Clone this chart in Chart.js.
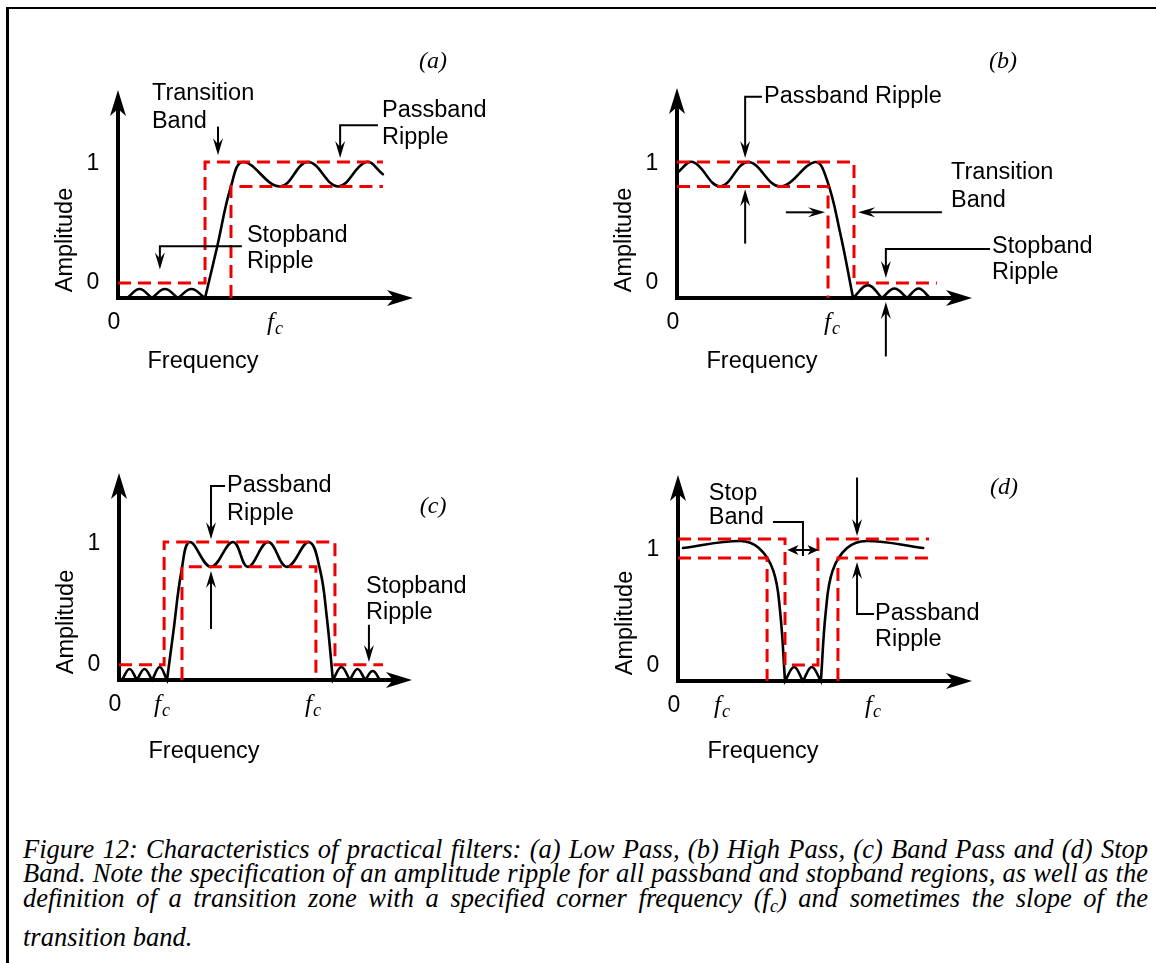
<!DOCTYPE html>
<html>
<head>
<meta charset="utf-8">
<title>Practical filter characteristics</title>
<script src="https://cdn.jsdelivr.net/npm/chart.js@4.4.1/dist/chart.umd.min.js"></script>
<style>
  body { margin: 0; background: #fff; }
  #page { position: relative; width: 1156px; height: 963px; overflow: hidden; background: #fff; }
  #frame { position: absolute; left: 6px; top: 7px; width: 1300px; height: 1100px;
           border-top: 2px solid #000; border-left: 3px solid #000; }
  #page canvas { position: absolute; left: 0; top: 0; }
  .cap { position: absolute; left: 23px; width: 1125px; line-height: 25px;
         font: italic 26.5px "Liberation Serif", "Times New Roman", serif; color: #000;
         text-align: justify; text-align-last: justify; }
  .cap.last { text-align-last: left; }
  .cap sub { font-size: 0.68em; vertical-align: -0.3em; line-height: 0; }
</style>
</head>
<body>
<div id="page">
  <div id="frame"></div>
  <div class="cap" style="top:834px">Figure 12: Characteristics of practical filters: (a) Low Pass, (b) High Pass, (c) Band Pass and (d) Stop</div>
  <div class="cap" style="top:858px">Band. Note the specification of an amplitude ripple for all passband and stopband regions, as well as the</div>
  <div class="cap" style="top:883px">definition of a transition zone with a specified corner frequency (f<sub>c</sub>) and sometimes the slope of the</div>
  <div class="cap last" style="top:922px">transition band.</div>
</div>

<script>
// ========== DATA ==========
// frequency runs 0..10 along each axis, amplitude 1 = top of the passband tolerance.
// a point listed twice marks a sharp junction between two ripple lobes.

// (a) low pass
const lowPassResponse = [
  [0.31, 0], [0.73, 0.066], [1.15, 0], [1.15, 0], [1.59, 0.066], [2.03, 0], [2.03, 0],
  [2.49, 0.066], [2.95, 0], [2.95, 0], [3.36, 0.375], [3.83, 0.82], [4.24, 1.0],
  [5.49, 0.82], [6.44, 1.0], [7.46, 0.82], [8.41, 1.0], [8.98, 0.91]
];
const lowPassUpper = [[0, 0.11], [2.95, 0.11], [2.95, 1.0], [8.98, 1.0]];
const lowPassLower = [[3.83, 0], [3.83, 0.82], [8.98, 0.82]];
const lowPassFc = [5.32];

// (b) high pass
const highPassResponse = [
  [0, 0.92], [0.54, 1.0], [1.46, 0.82], [2.41, 1.0], [3.49, 0.82], [4.68, 1.0],
  [5.08, 0.87], [5.53, 0.48], [5.97, 0], [5.97, 0], [6.47, 0.095], [6.95, 0], [6.95, 0],
  [7.37, 0.07], [7.80, 0], [7.80, 0], [8.19, 0.07], [8.58, 0]
];
const highPassUpper = [[0, 1.0], [6.0, 1.0], [6.0, 0.11], [8.81, 0.11]];
const highPassLower = [[0, 0.82], [5.12, 0.82], [5.12, 0]];
const highPassFc = [5.25];

// (c) band pass
const bandPassResponse = [
  [0.10, 0], [0.36, 0.08], [0.61, 0], [0.61, 0], [0.87, 0.08], [1.13, 0], [1.13, 0],
  [1.39, 0.094], [1.64, 0], [1.64, 0], [1.85, 0.34], [2.14, 0.80], [2.42, 1.0],
  [3.14, 0.82], [3.89, 1.0], [4.40, 0.82], [5.09, 1.0], [5.73, 0.82], [6.48, 1.0],
  [6.86, 0.80], [7.09, 0.46], [7.30, 0], [7.30, 0], [7.59, 0.094], [7.88, 0], [7.88, 0],
  [8.14, 0.08], [8.40, 0], [8.40, 0], [8.66, 0.065], [8.91, 0]
];
const bandPassUpper = [[0, 0.11], [1.54, 0.11], [1.54, 1.0], [7.37, 1.0], [7.37, 0.11], [9.01, 0.11]];
const bandPassLower = [[2.15, 0], [2.15, 0.82], [6.72, 0.82], [6.72, 0]];
const bandPassFc = [1.47, 6.62];

// (d) band stop
const bandStopResponse = [
  [0.17, 1.0], [2.11, 1.053], [2.75, 1.0], [3.24, 0.83], [3.47, 0.53], [3.64, 0], [3.64, 0],
  [3.95, 0.105], [4.25, 0], [4.25, 0], [4.55, 0.105], [4.86, 0], [4.86, 0],
  [5.03, 0.53], [5.26, 0.83], [5.75, 1.0], [6.42, 1.053], [8.34, 1.0]
];
const bandStopUpper = [[0, 1.068], [3.64, 1.068], [3.64, 0.12], [4.76, 0.12], [4.76, 1.068], [8.54, 1.068]];
const bandStopLowerLeft = [[0, 0.925], [3.03, 0.925], [3.03, 0]];
const bandStopLowerRight = [[5.44, 0], [5.44, 0.925], [8.54, 0.925]];
const bandStopFc = [1.50, 6.63];

// ========== STYLE ==========
const INK = '#000';
const RED = '#ee0000';
const SANS = '"Liberation Sans", Arial, sans-serif';
const SERIF = '"Liberation Serif", "Times New Roman", serif';
const LABEL_FONT = `23.5px ${SANS}`;
const TICK_FONT = `23px ${SANS}`;
const TAG_FONT = `italic 24px ${SERIF}`;

// ========== PANELS ==========
const panels = [
  {
    box: { left: 118, top: 90, right: 413, bottom: 298 }, yMax: 1.529, freqDy: 64,
    response: lowPassResponse, bounds: [lowPassUpper, lowPassLower], fc: lowPassFc,
    tag: ['(a)', 10.68, 1.735],
    labels: [
      { x: 1.15, rows: [['Transition', 1.50], ['Band', 1.30]] },
      { x: 8.95, rows: [['Passband', 1.375], ['Ripple', 1.18]] },
      { x: 4.37, rows: [['Stopband', 0.46], ['Ripple', 0.265]] }
    ],
    arrows: [
      { pts: [[3.39, 1.26], [3.39, 1.05]] },
      { pts: [[8.81, 1.27], [7.53, 1.27], [7.53, 1.03]] },
      { pts: [[4.2, 0.38], [1.42, 0.38], [1.42, 0.21]] }
    ]
  },
  {
    box: { left: 677, top: 88, right: 972, bottom: 298 }, yMax: 1.544, freqDy: 64,
    response: highPassResponse, bounds: [highPassUpper, highPassLower], fc: highPassFc,
    tag: ['(b)', 11.05, 1.735],
    labels: [
      { x: 2.95, rows: [['Passband Ripple', 1.48]] },
      { x: 9.29, rows: [['Transition', 0.92], ['Band', 0.72]] },
      { x: 10.68, rows: [['Stopband', 0.38], ['Ripple', 0.19]] }
    ],
    arrows: [
      { pts: [[2.88, 1.48], [2.31, 1.48], [2.31, 1.03]] },
      { pts: [[2.31, 0.40], [2.31, 0.80]] },
      { pts: [[8.98, 0.63], [6.14, 0.63]] },
      { pts: [[3.69, 0.63], [5.02, 0.63]] },
      { pts: [[10.61, 0.36], [7.08, 0.36], [7.08, 0.147]] },
      { pts: [[7.08, -0.43], [7.08, -0.03]] }
    ]
  },
  {
    box: { left: 119, top: 473, right: 412, bottom: 680 }, yMax: 1.5, freqDy: 72,
    response: bandPassResponse, bounds: [bandPassUpper, bandPassLower], fc: bandPassFc,
    tag: ['(c)', 10.72, 1.254],
    labels: [
      { x: 3.69, rows: [['Passband', 1.406], ['Ripple', 1.21]] },
      { x: 8.43, rows: [['Stopband', 0.674], ['Ripple', 0.486]] }
    ],
    arrows: [
      { pts: [[3.62, 1.406], [3.14, 1.406], [3.14, 1.02]] },
      { pts: [[3.14, 0.37], [3.14, 0.79]] },
      { pts: [[8.53, 0.40], [8.53, 0.13]] }
    ]
  },
  {
    box: { left: 678, top: 475, right: 972, bottom: 681 }, yMax: 1.549, freqDy: 71,
    response: bandStopResponse, bounds: [bandStopUpper, bandStopLowerLeft, bandStopLowerRight], fc: bandStopFc,
    tag: ['(d)', 11.09, 1.451],
    labels: [
      { x: 1.05, rows: [['Stop', 1.41], ['Band', 1.23]] },
      { x: 6.70, rows: [['Passband', 0.51], ['Ripple', 0.31]] }
    ],
    arrows: [
      { pts: [[3.23, 1.195], [4.25, 1.195], [4.25, 0.94]], bare: true },
      { pts: [[3.72, 0.985], [4.78, 0.985]], both: true },
      { pts: [[6.09, 1.53], [6.09, 1.09]] },
      { pts: [[6.67, 0.504], [6.09, 0.504], [6.09, 0.895]] }
    ]
  }
];

// ========== DRAWING HELPERS ==========
const toPts = arr => arr.map(([x, y]) => ({ x, y }));

// stealth-style arrow head, (dx,dy) = unit direction of travel
function head(ctx, tx, ty, dx, dy, len, half, notch) {
  const bx = tx - dx * len, by = ty - dy * len;
  ctx.beginPath();
  ctx.moveTo(tx, ty);
  ctx.lineTo(bx - dy * half, by + dx * half);
  ctx.lineTo(tx - dx * notch, ty - dy * notch);
  ctx.lineTo(bx + dy * half, by - dx * half);
  ctx.closePath();
  ctx.fill();
}

function unit(p, q) {
  const dx = q[0] - p[0], dy = q[1] - p[1];
  const d = Math.hypot(dx, dy) || 1;
  return [dx / d, dy / d];
}

function drawArrow(ctx, pts, both, bare) {
  // short double arrows get a smaller head so the two don't overlap
  const [L, W, N] = both ? [11, 5, 8] : [17, 5, 11];
  const line = pts.map(p => p.slice());
  const n = line.length;
  const dEnd = unit(pts[n - 2], pts[n - 1]);
  if (!bare) { line[n - 1][0] -= dEnd[0] * N; line[n - 1][1] -= dEnd[1] * N; }
  const dStart = unit(pts[1], pts[0]);
  if (both) { line[0][0] -= dStart[0] * N; line[0][1] -= dStart[1] * N; }
  ctx.beginPath();
  line.forEach(([x, y], i) => (i ? ctx.lineTo(x, y) : ctx.moveTo(x, y)));
  ctx.stroke();
  if (!bare) head(ctx, pts[n - 1][0], pts[n - 1][1], dEnd[0], dEnd[1], L, W, N);
  if (both) head(ctx, pts[0][0], pts[0][1], dStart[0], dStart[1], L, W, N);
}

function drawAxes(chart) {
  const { ctx, chartArea: a } = chart;
  ctx.save();
  ctx.strokeStyle = INK;
  ctx.fillStyle = INK;
  ctx.lineWidth = 4;
  ctx.beginPath();
  ctx.moveTo(a.left, a.bottom + 2);
  ctx.lineTo(a.left, a.top + 18);
  ctx.moveTo(a.left - 2, a.bottom);
  ctx.lineTo(a.right - 18, a.bottom);
  ctx.stroke();
  head(ctx, a.left, a.top, 0, -1, 26, 8, 19);
  head(ctx, a.right, a.bottom, 1, 0, 26, 8, 19);
  ctx.restore();
}

function drawNotes(chart, p) {
  const { ctx, chartArea: a, scales } = chart;
  const X = v => scales.x.getPixelForValue(v);
  const Y = v => scales.y.getPixelForValue(v);
  ctx.save();
  ctx.fillStyle = INK;
  ctx.strokeStyle = INK;
  ctx.textBaseline = 'middle';

  // amplitude and frequency tick labels
  ctx.font = TICK_FONT;
  ctx.textAlign = 'center';
  ctx.fillText('1', a.left - 25, Y(1) + 2);
  ctx.fillText('0', a.left - 25, Y(0) - 15);
  ctx.fillText('0', X(0) - 4, a.bottom + 25);

  // corner frequency marks: italic f with subscript c
  ctx.textBaseline = 'alphabetic';
  ctx.textAlign = 'left';
  p.fc.forEach(v => {
    const cx = X(v);
    ctx.font = `italic 25px ${SERIF}`;
    ctx.fillText('f', cx - 8, a.bottom + 32);
    ctx.font = `italic 18px ${SERIF}`;
    ctx.fillText('c', cx, a.bottom + 36);
  });

  // axis titles
  ctx.textBaseline = 'middle';
  ctx.textAlign = 'center';
  ctx.font = LABEL_FONT;
  ctx.fillText('Frequency', a.left + 85, a.bottom + p.freqDy);
  ctx.save();
  ctx.translate(a.left - 52, a.bottom - 58);
  ctx.rotate(-Math.PI / 2);
  ctx.fillText('Amplitude', 0, 0);
  ctx.restore();

  // panel tag
  ctx.font = TAG_FONT;
  ctx.fillText(p.tag[0], X(p.tag[1]), Y(p.tag[2]));

  // callout text and leaders
  ctx.font = LABEL_FONT;
  ctx.textAlign = 'left';
  p.labels.forEach(l => l.rows.forEach(([t, v]) => ctx.fillText(t, X(l.x), Y(v))));
  ctx.lineWidth = 2;
  ctx.lineJoin = 'miter';
  p.arrows.forEach(ar => drawArrow(ctx, ar.pts.map(([u, v]) => [X(u), Y(v)]), ar.both, ar.bare));
  ctx.restore();
}

// ========== CHARTS ==========
const page = document.getElementById('page');

panels.forEach(p => {
  const canvas = document.createElement('canvas');
  canvas.width = 1156;
  canvas.height = 963;
  page.appendChild(canvas);

  const boundSets = p.bounds.map(b => ({
    data: toPts(b),
    borderColor: RED,
    borderWidth: 3,
    borderDash: [13, 7],
    borderJoinStyle: 'miter',
    tension: 0
  }));

  new Chart(canvas, {
    type: 'line',
    data: {
      datasets: [
        ...boundSets,
        {
          data: toPts(p.response),
          borderColor: INK,
          borderWidth: 2.6,
          tension: 0.4,
          borderCapStyle: 'round'
        }
      ]
    },
    options: {
      responsive: false,
      animation: false,
      devicePixelRatio: 1,
      events: [],
      clip: false,
      elements: { point: { radius: 0 } },
      layout: {
        padding: {
          left: p.box.left,
          top: p.box.top,
          right: 1156 - p.box.right,
          bottom: 963 - p.box.bottom
        }
      },
      scales: {
        x: { type: 'linear', display: false, min: 0, max: 10 },
        y: { type: 'linear', display: false, min: 0, max: p.yMax }
      },
      plugins: { legend: { display: false }, tooltip: { enabled: false }, title: { display: false } }
    },
    plugins: [{
      id: 'filterSketch',
      beforeDatasetsDraw: chart => drawAxes(chart),
      afterDatasetsDraw: chart => drawNotes(chart, p)
    }]
  });
});
</script>
</body>
</html>
